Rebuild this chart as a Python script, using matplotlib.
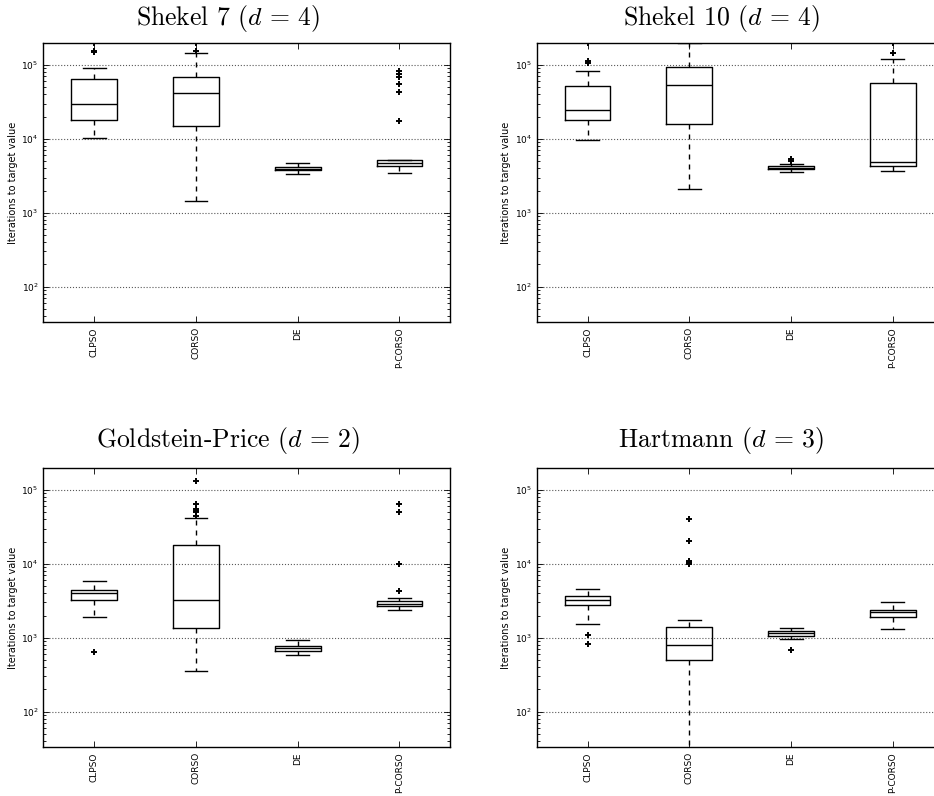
import matplotlib
matplotlib.use('Agg')
import matplotlib.pyplot as plt

methods = ['CLPSO', 'CORSO', 'DE', 'P-CORSO']
titles = [r'Shekel 7 ($d\,=\,4$)', r'Shekel 10 ($d\,=\,4$)',
          r'Goldstein-Price ($d\,=\,2$)', r'Hartmann ($d\,=\,3$)']

# per-panel box statistics, one entry per method
q1 = [[18100, 14700, 3790, 4250],
      [18100, 16000, 3870, 4250],
      [3210, 1350, 667, 2690],
      [2810, 508, 1050, 1930]]
med = [[29800, 41500, 3910, 4750],
       [24900, 54300, 4080, 4910],
       [4030, 3250, 718, 2900],
       [3280, 798, 1150, 2210]]
q3 = [[64700, 68900, 4200, 5120],
      [52100, 94000, 4250, 56600],
      [4480, 17800, 780, 3180],
      [3680, 1400, 1220, 2400]]
whislo = [[10200, 1430, 3310, 3480],
          [9530, 2100, 3520, 3670],
          [1910, 350, 577, 2360],
          [1540, 20, 965, 1300]]
whishi = [[90200, 145000, 4660, 5150],
          [83000, 200000, 4570, 120000],
          [5810, 42300, 930, 3490],
          [4570, 1720, 1360, 3020]]
fliers = [[[151000, 155000, 200000], [156000, 200000], [], [82100, 76000, 69700, 56000, 43300, 17400]],
          [[114000, 107000, 200000], [], [5330, 4960], [145000, 200000]],
          [[640], [131000, 64000, 54700, 52500, 49900, 45000], [], [64700, 49900, 9900, 4340]],
          [[1100, 816], [40100, 20200, 11000, 10500, 10200, 10000], [690], []]]

fig = plt.figure(figsize=(9.34, 7.96), dpi=100)

# axes rectangles in figure fractions (right column runs past the edge)
rects = [[0.0464, 0.5951, 0.4358, 0.3513],
         [0.5746, 0.5951, 0.4358, 0.3513],
         [0.0464, 0.0612, 0.4358, 0.3513],
         [0.5746, 0.0612, 0.4358, 0.3513]]
title_xy = [(0.2440, 0.977), (0.7720, 0.977), (0.2440, 0.447), (0.7720, 0.447)]

for i in range(4):
    ax = fig.add_axes(rects[i])
    stats = []
    for j, m in enumerate(methods):
        stats.append(dict(label=m, med=med[i][j], q1=q1[i][j], q3=q3[i][j],
                          whislo=whislo[i][j], whishi=whishi[i][j],
                          fliers=fliers[i][j]))
    ax.bxp(stats, positions=[1, 2, 3, 4], widths=0.45,
           boxprops=dict(color='k', lw=1),
           medianprops=dict(color='k', lw=1),
           whiskerprops=dict(color='k', lw=1, ls=(0, (3.6, 3.6))),
           capprops=dict(color='k', lw=1),
           flierprops=dict(marker='+', markeredgecolor='k', markersize=4.5,
                           markeredgewidth=1.4, ls='none'))
    ax.set_yscale('log')
    ax.set_ylim(33, 2e5)
    ax.set_xlim(0.5, 4.5)
    ax.yaxis.grid(True, which='major', color='0.35', ls=':', lw=0.8)
    ax.tick_params(which='both', direction='in', top=True, right=True,
                   labelsize=6.5, width=0.6)
    ax.tick_params(which='major', length=4)
    ax.tick_params(which='minor', length=2)
    ax.tick_params(axis='x', which='minor', bottom=False, top=False)
    for lab in ax.get_xticklabels():
        lab.set_rotation(90)
    for sp in ax.spines.values():
        sp.set_linewidth(1.0)
    ax.set_ylabel('Iterations to target value', fontsize=7)
    ax.yaxis.set_label_coords(-0.062, 0.5)
    fig.text(title_xy[i][0], title_xy[i][1], titles[i], ha='center', va='center',
             fontsize=18.5, family='cmr10', math_fontfamily='cm')

fig.savefig('out.png', dpi=100)
